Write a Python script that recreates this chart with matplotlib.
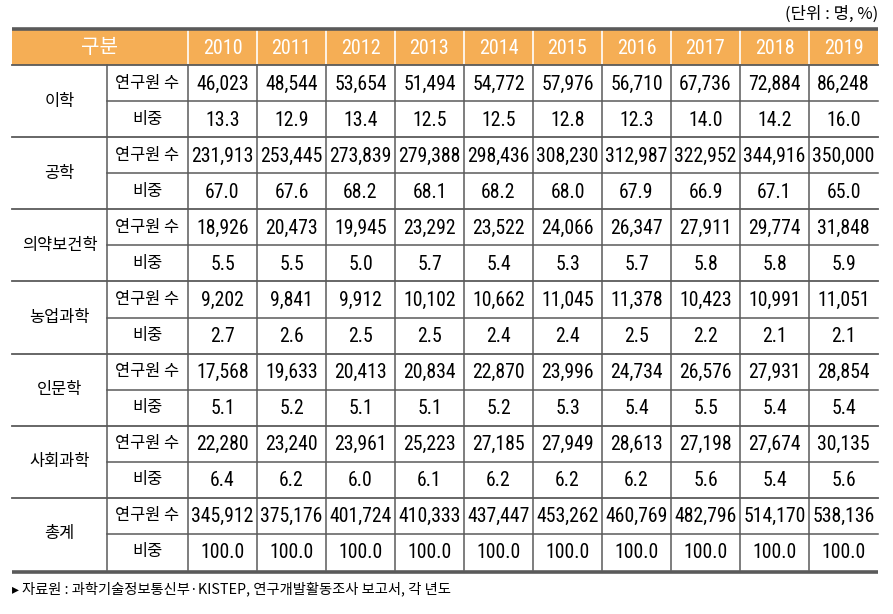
import matplotlib.pyplot as plt

# data
years = [2010, 2011, 2012, 2013, 2014, 2015, 2016, 2017, 2018, 2019]
fields = ["이학", "공학", "의약보건학", "농업과학", "인문학", "사회과학", "총계"]

sci_n = [46023, 48544, 53654, 51494, 54772, 57976, 56710, 67736, 72884, 86248]
sci_p = [13.3, 12.9, 13.4, 12.5, 12.5, 12.8, 12.3, 14.0, 14.2, 16.0]
eng_n = [231913, 253445, 273839, 279388, 298436, 308230, 312987, 322952, 344916, 350000]
eng_p = [67.0, 67.6, 68.2, 68.1, 68.2, 68.0, 67.9, 66.9, 67.1, 65.0]
med_n = [18926, 20473, 19945, 23292, 23522, 24066, 26347, 27911, 29774, 31848]
med_p = [5.5, 5.5, 5.0, 5.7, 5.4, 5.3, 5.7, 5.8, 5.8, 5.9]
agr_n = [9202, 9841, 9912, 10102, 10662, 11045, 11378, 10423, 10991, 11051]
agr_p = [2.7, 2.6, 2.5, 2.5, 2.4, 2.4, 2.5, 2.2, 2.1, 2.1]
hum_n = [17568, 19633, 20413, 20834, 22870, 23996, 24734, 26576, 27931, 28854]
hum_p = [5.1, 5.2, 5.1, 5.1, 5.2, 5.3, 5.4, 5.5, 5.4, 5.4]
soc_n = [22280, 23240, 23961, 25223, 27185, 27949, 28613, 27198, 27674, 30135]
soc_p = [6.4, 6.2, 6.0, 6.1, 6.2, 6.2, 6.2, 5.6, 5.4, 5.6]
tot_n = [345912, 375176, 401724, 410333, 437447, 453262, 460769, 482796, 514170, 538136]
tot_p = [100.0] * 10

counts = [sci_n, eng_n, med_n, agr_n, hum_n, soc_n, tot_n]
shares = [sci_p, eng_p, med_p, agr_p, hum_p, soc_p, tot_p]

sub_labels = ["연구원 수", "비중"]
unit_text = "(단위 : 명, %)"
source_text = "자료원 : 과학기술정보통신부·KISTEP, 연구개발활동조사 보고서, 각 년도"

KR = ["Noto Sans CJK KR", "DejaVu Sans"]
NUM = ["Roboto Condensed", "Archivo Narrow", "Noto Sans CJK KR"]
line_c = "#5a5a5a"
head_c = "#f5ae55"

fig = plt.figure(figsize=(8.93, 6.14), dpi=100)
ax = fig.add_axes([0, 0, 1, 1])
ax.set_xlim(0, 893)
ax.set_ylim(614, 0)
ax.axis("off")

# layout (pixels)
x0, x1, x2 = 12, 107, 188
cw = (878 - x2) / len(years)
xr = x2 + cw * len(years)
y_top, y_head = 30, 65
rh = (570 - y_head) / (len(fields) * 2)
y_bot = y_head + rh * len(fields) * 2

# header
ax.fill_between([x0, xr], y_top, y_head, color=head_c, lw=0)
ax.text((x0 + x2) / 2, (y_top + y_head) / 2, "구분", family=KR, fontsize=14.5,
        color="white", ha="center", va="center")
for i, yr in enumerate(years):
    cx = x2 + cw * (i + 0.5)
    ax.text(cx, (y_top + y_head) / 2 + 1, str(yr), family=NUM, fontsize=14.5,
            color="white", ha="center", va="center")
    ax.plot([x2 + cw * i] * 2, [y_top, y_head], color="white", lw=1.2)

# body
for g, name in enumerate(fields):
    gy = y_head + rh * 2 * g
    ax.text((x0 + x1) / 2, gy + rh, name, family=KR, fontsize=11.8,
            ha="center", va="center")
    rows = [[f"{v:,}" for v in counts[g]], [f"{v:.1f}" for v in shares[g]]]
    for r in range(2):
        cy = gy + rh * (r + 0.5)
        ax.text((x1 + x2) / 2, cy, sub_labels[r], family=KR, fontsize=11.8,
                ha="center", va="center")
        for i, s in enumerate(rows[r]):
            ax.text(x2 + cw * (i + 0.5), cy + 1, s, family=NUM, fontsize=14.2,
                    ha="center", va="center")
    ax.plot([x1, xr], [gy + rh] * 2, color=line_c, lw=1.1)
    if g > 0:
        ax.plot([x0, xr], [gy] * 2, color=line_c, lw=1.3)

ax.plot([x0, xr], [y_head] * 2, color=line_c, lw=1.3)
for xv in [x1] + [x2 + cw * i for i in range(len(years))]:
    ax.plot([xv, xv], [y_head, y_bot], color=line_c, lw=1.1)

ax.plot([x0, xr], [y_top - 1.5] * 2, color=line_c, lw=2.6, solid_capstyle="butt")
ax.plot([x0, xr], [y_bot + 1.5] * 2, color=line_c, lw=2.6, solid_capstyle="butt")

ax.text(xr, 14, unit_text, family=KR, fontsize=12, ha="right", va="center")
ax.text(x0, 589, "▸", family=["DejaVu Sans"], fontsize=10, ha="left", va="center")
ax.text(x0 + 10, 589, source_text, family=KR, fontsize=10.3, ha="left", va="center")

fig.savefig("out.png", dpi=100)
